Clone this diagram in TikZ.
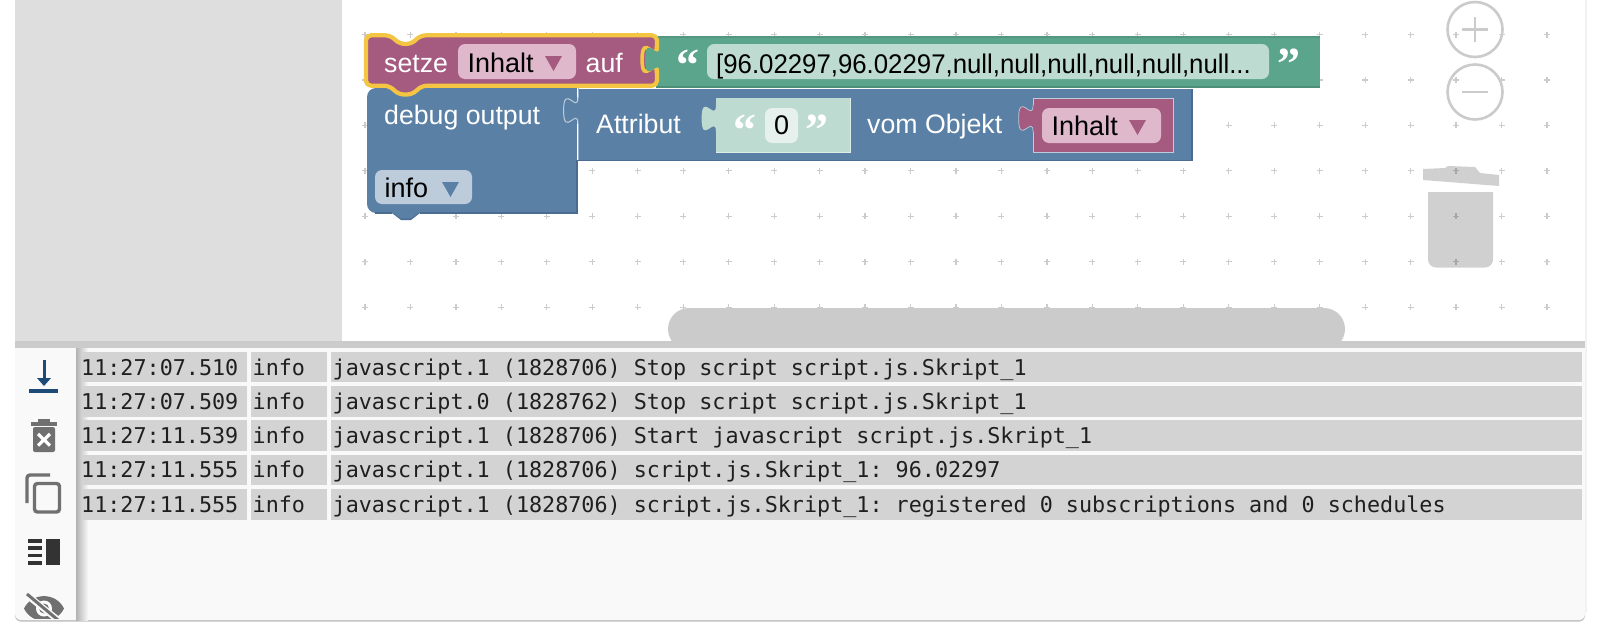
\documentclass[tikz,border=0pt]{standalone}
\usepackage{fontspec}
\usepackage{graphicx}
\setmainfont{Liberation Sans}
\newfontfamily\logfont{DejaVu Sans Mono}
\newfontfamily\quotefont{Liberation Serif Bold}
\frenchspacing
\definecolor{redblk}{HTML}{A55B80}
\definecolor{redfld}{HTML}{DFB8CC}
\definecolor{blueblk}{HTML}{5B80A5}
\definecolor{bluedk}{HTML}{4A6C91}
\definecolor{bluefld}{HTML}{BDCCDB}
\definecolor{greenblk}{HTML}{5BA58C}
\definecolor{greendk}{HTML}{4D8E78}
\definecolor{greenfld}{HTML}{BDDBD1}
\definecolor{zerofld}{HTML}{E6F0EC}
\definecolor{selyel}{HTML}{F4C543}
\definecolor{panelbg}{HTML}{F9F9F9}
\definecolor{rowbg}{HTML}{D3D3D3}
\definecolor{leftgrey}{HTML}{DEDEDE}
\definecolor{uigrey}{HTML}{CBCBCB}
\definecolor{iconblue}{HTML}{1D4A77}
\definecolor{icongrey}{HTML}{707070}
\tikzset{
  x=1pt,y=-1pt,
  whitetxt/.style={inner sep=0pt,anchor=base west,text=white,font=\fontsize{26.7}{27}\selectfont},
  blacktxt/.style={inner sep=0pt,anchor=base west,text=black,font=\fontsize{27}{27}\selectfont},
  quotetxt/.style={inner sep=0pt,anchor=base west,text=white,font=\quotefont\fontsize{46}{46}\selectfont},
  logtxt/.style={inner sep=0pt,anchor=base west,text=black!88,font=\logfont\fontsize{21.75}{22}\selectfont},
  logrow/.style={fill=rowbg,draw=none},
  fieldbox/.style={rounded corners=7pt,draw=none},
  zoomring/.style={draw=uigrey,line width=2.6pt},
}
\newcommand{\pztab}[3]{\begin{scope}[shift={(#1,#2)}]
  \path[#3] (0,0) .. controls (0,18) and (-14.4,-14.4) .. (-14.4,13.5) .. controls (-14.4,41.4) and (0,9) .. (0,27);
\end{scope}}
\newcommand{\fldtri}[3]{\fill[#3] (#1,#2) -- ++(17,0) -- ++(-8.5,15) -- cycle;}
\begin{document}
\begin{tikzpicture}
\useasboundingbox (0,0) rectangle (1600,635);
\fill[white] (0,0) rectangle (1600,635);
% panel
\fill[black!25,rounded corners=6pt] (15,560) rectangle (1585,621.5);
\fill[black!5] (1585,0) rectangle (1586.5,612);
\fill[white] (15,0) rectangle (1585,345);
\fill[leftgrey] (15,0) rectangle (342,341);
% trash (below grid)
\fill[uigrey!90!white] (1423,169) -- (1445,168) -- (1448,166) -- (1475,167) -- (1480,173) -- (1499,175) -- (1499,186) -- (1423,180) -- cycle;
\fill[uigrey!90!white] (1428,192) [rounded corners=8pt] -- (1428,267.5) -- (1493,267.5) [sharp corners] -- (1493,192) -- cycle;
% grid
\foreach \i in {0,...,26}{\foreach \j in {0,...,6}{
  \pgfmathsetmacro{\gx}{365+45.46*\i}\pgfmathsetmacro{\gy}{34.5+45.45*\j}
  \draw[black,opacity=.2,line width=1.2pt] (\gx-3,\gy) -- (\gx+3,\gy) (\gx,\gy-3) -- (\gx,\gy+3);
}}
% zoom controls
\draw[zoomring] (1475,29.5) circle[radius=27.5];
\draw[zoomring] (1475,92) circle[radius=27.5];
\draw[uigrey,line width=2.6pt] (1462,29.5) -- (1488,29.5) (1475,17) -- (1475,42);
\draw[uigrey,line width=2.6pt] (1462,92) -- (1488,92);
% scrollbar
\fill[uigrey,rounded corners=21pt] (668,308) rectangle (1345,350);
% divider + log panel
\fill[uigrey] (15,341) rectangle (1585,348);
\fill[panelbg,rounded corners=6pt] (15,348) -- (1585,348) -- (1585,620) -- (15,620) -- cycle;
\fill[panelbg] (15,348) rectangle (1585,360);
\shade[left color=black!30,right color=panelbg] (76,348) rectangle (88,620);
% log rows
\foreach \yA/\yB in {352/382,386/417,420/451,455/485,489/520}{
  \fill[logrow] (82,\yA) rectangle (247,\yB);
  \fill[logrow] (251,\yA) rectangle (327,\yB);
  \fill[logrow] (331,\yA) rectangle (1582,\yB);
}
\node[logtxt] (t1) at (81,375) {11:27:07.510};
\node[logtxt] (l1) at (252.5,375) {info};
\node[logtxt] (m1) at (332.5,375) {javascript.1 (1828706) Stop script script.js.Skript\_1};
\node[logtxt] (t2) at (81,409) {11:27:07.509};
\node[logtxt] (l2) at (252.5,409) {info};
\node[logtxt] (m2) at (332.5,409) {javascript.0 (1828762) Stop script script.js.Skript\_1};
\node[logtxt] (t3) at (81,443.5) {11:27:11.539};
\node[logtxt] (l3) at (252.5,443.5) {info};
\node[logtxt] (m3) at (332.5,443.5) {javascript.1 (1828706) Start javascript script.js.Skript\_1};
\node[logtxt] (t4) at (81,477.5) {11:27:11.555};
\node[logtxt] (l4) at (252.5,477.5) {info};
\node[logtxt] (m4) at (332.5,477.5) {javascript.1 (1828706) script.js.Skript\_1: 96.02297};
\node[logtxt] (t5) at (81,512) {11:27:11.555};
\node[logtxt] (l5) at (252.5,512) {info};
\node[logtxt] (m5) at (332.5,512) {javascript.1 (1828706) script.js.Skript\_1: registered 0 subscriptions and 0 schedules};
% toolbar icons
\draw[iconblue,line width=3pt] (44,360) -- (44,380);
\fill[iconblue] (37,378) -- (51,378) -- (44,386) -- cycle;
\draw[iconblue,line width=3.6pt] (29,391) -- (58,391);
\fill[icongrey] (31,421.5) rectangle (57,425.5);
\fill[icongrey] (38,419) rectangle (50,422);
\fill[icongrey,rounded corners=2pt] (33,427) -- (55,427) -- (55,452) -- (33,452) -- cycle;
\draw[white,line width=3.2pt] (38,434) -- (50,445.5) (50,434) -- (38,445.5);
\draw[icongrey,line width=3.4pt,rounded corners=3pt] (50,475) -- (27,475) -- (27,503);
\draw[icongrey,line width=3.4pt,rounded corners=3pt] (34.5,483.5) rectangle (59.5,512);
\fill[black!80] (46,539) rectangle (59.5,565);
\foreach \ly in {541,548,555.5,563}{\fill[black!80] (27.5,\ly-1.7) rectangle (42,\ly+1.7);}
\begin{scope}
\clip (15,590) rectangle (76,618.5);
\fill[icongrey] (24,608.5) .. controls (32,592) and (56,592) .. (64,608.5) .. controls (56,625) and (32,625) .. (24,608.5) -- cycle;
\fill[white] (44,608.5) circle[radius=8];
\fill[icongrey] (44,608.5) circle[radius=5];
\draw[panelbg,line width=6.5pt] (27,595) -- (58,620);
\draw[icongrey,line width=3pt] (27,594) -- (58,620);
\end{scope}
% blue debug block
\fill[blueblk,rounded corners=9pt] (367,88) -- (367,213) -- (440,213) -- (440,88) -- cycle;
\fill[blueblk] (380,88) rectangle (577,213);
\fill[bluedk] (392,213) -- (401,220) -- (411,220) -- (420,213) -- cycle;
\fill[blueblk] (392,212) -- (401,218.5) -- (411,218.5) -- (420,212) -- cycle;
\draw[bluedk,line width=1.2pt] (375,213) -- (392,213) (420,213) -- (577,213) -- (577,160);
% attribute row
\fill[blueblk] (578,88.5) rectangle (1192,161);
\draw[bluedk,line width=1.4pt] (578,160.5) -- (1192,160.5) -- (1192,88.5);
\pztab{578}{97}{fill=blueblk}
\pztab{578}{97}{draw=bluefld,line width=1pt}
\draw[bluefld!65!blueblk,line width=.8pt] (578,88) -- (578,98) (578,123.5) -- (578,160);
% green string block
\fill[greenblk] (656,36) rectangle (1320,88);
\fill[greendk] (656,86.3) rectangle (1320,88);
\fill[greendk!60!greenblk] (656,36) rectangle (1320,37.5);
% red block
\fill[redblk,rounded corners=7pt] (366,35) -- (390,35) -- (400,44) -- (411,44) -- (421,35) -- (657,35) -- (657,85.5) -- (421,85.5) -- (411,95) -- (400,95) -- (390,85.5) -- (366,85.5) -- cycle;
\draw[selyel,line width=4.2pt,rounded corners=5pt,line join=round] (366,35.3) -- (390,35.3) -- (400,44) -- (411,44) -- (421,35.3) -- (657,35.3) -- (657,85.7) -- (422,85.7) -- (412,94.5) -- (399,94.5) -- (389,85.7) -- (366,85.7) -- cycle;
\pztab{656.5}{46}{draw=selyel,line width=3.6pt}
\pztab{659.5}{46}{fill=greenblk}
\fill[greenblk] (654.5,52) rectangle (660,66);
% red block content
\node[whitetxt] (setze) at (384,72) {setze};
\fill[redfld,fieldbox] (458,44) rectangle (576,79);
\node[blacktxt] (inh1) at (467.5,72) {Inhalt};
\fldtri{545}{56}{redblk}
\node[whitetxt] (auf) at (585.5,72) {auf};
% green content
\node[quotetxt] (qo1) at (676,80) {“};
\fill[greenfld,fieldbox] (707,44) rectangle (1269,79);
\node[inner sep=0pt,anchor=base west,text=black,font=\fontsize{27}{27}\selectfont] (val) at (716,73) {\scalebox{0.955}[1]{[96.02297,96.02297,null,null,null,null,null,null...}};
\node[quotetxt] (qc1) at (1277,79) {”};
% debug content
\node[whitetxt] (dbg) at (384,124) {debug output};
\fill[bluefld,fieldbox] (375,170) rectangle (472,204);
\node[blacktxt] (info) at (384.5,197) {info};
\fldtri{442}{182}{blueblk}
\node[whitetxt] (attr) at (596,133) {Attribut};
% number string block
\fill[greenfld] (716,98) rectangle (850,152);
\draw[white!50!greenfld,line width=1pt] (850,98) -- (850,152) -- (716,152);
\pztab{716}{105}{fill=greenfld}
\node[quotetxt] (qo2) at (733,145) {“};
\fill[zerofld,fieldbox] (765,108) rectangle (798,143);
\node[blacktxt,anchor=base] (zero) at (781.5,134.5) {0};
\node[quotetxt] (qc2) at (805,145) {”};
\node[whitetxt] (vom) at (867,133) {vom Objekt};
% inhalt getter
\fill[redblk] (1033,98) rectangle (1173,152);
\draw[bluefld,line width=1pt] (1033,152) -- (1173,152) -- (1173,98);
\draw[bluefld,line width=.7pt] (1033,98) -- (1173,98) (1033,98) -- (1033,105) (1033,132) -- (1033,152);
\pztab{1033}{105}{fill=redblk}
\pztab{1033}{105}{draw=bluefld,line width=.7pt}
\fill[redfld,fieldbox] (1042,108) rectangle (1161,143);
\node[blacktxt] (inh2) at (1051.5,135) {Inhalt};
\fldtri{1129}{120}{redblk}
\end{tikzpicture}
\end{document}
